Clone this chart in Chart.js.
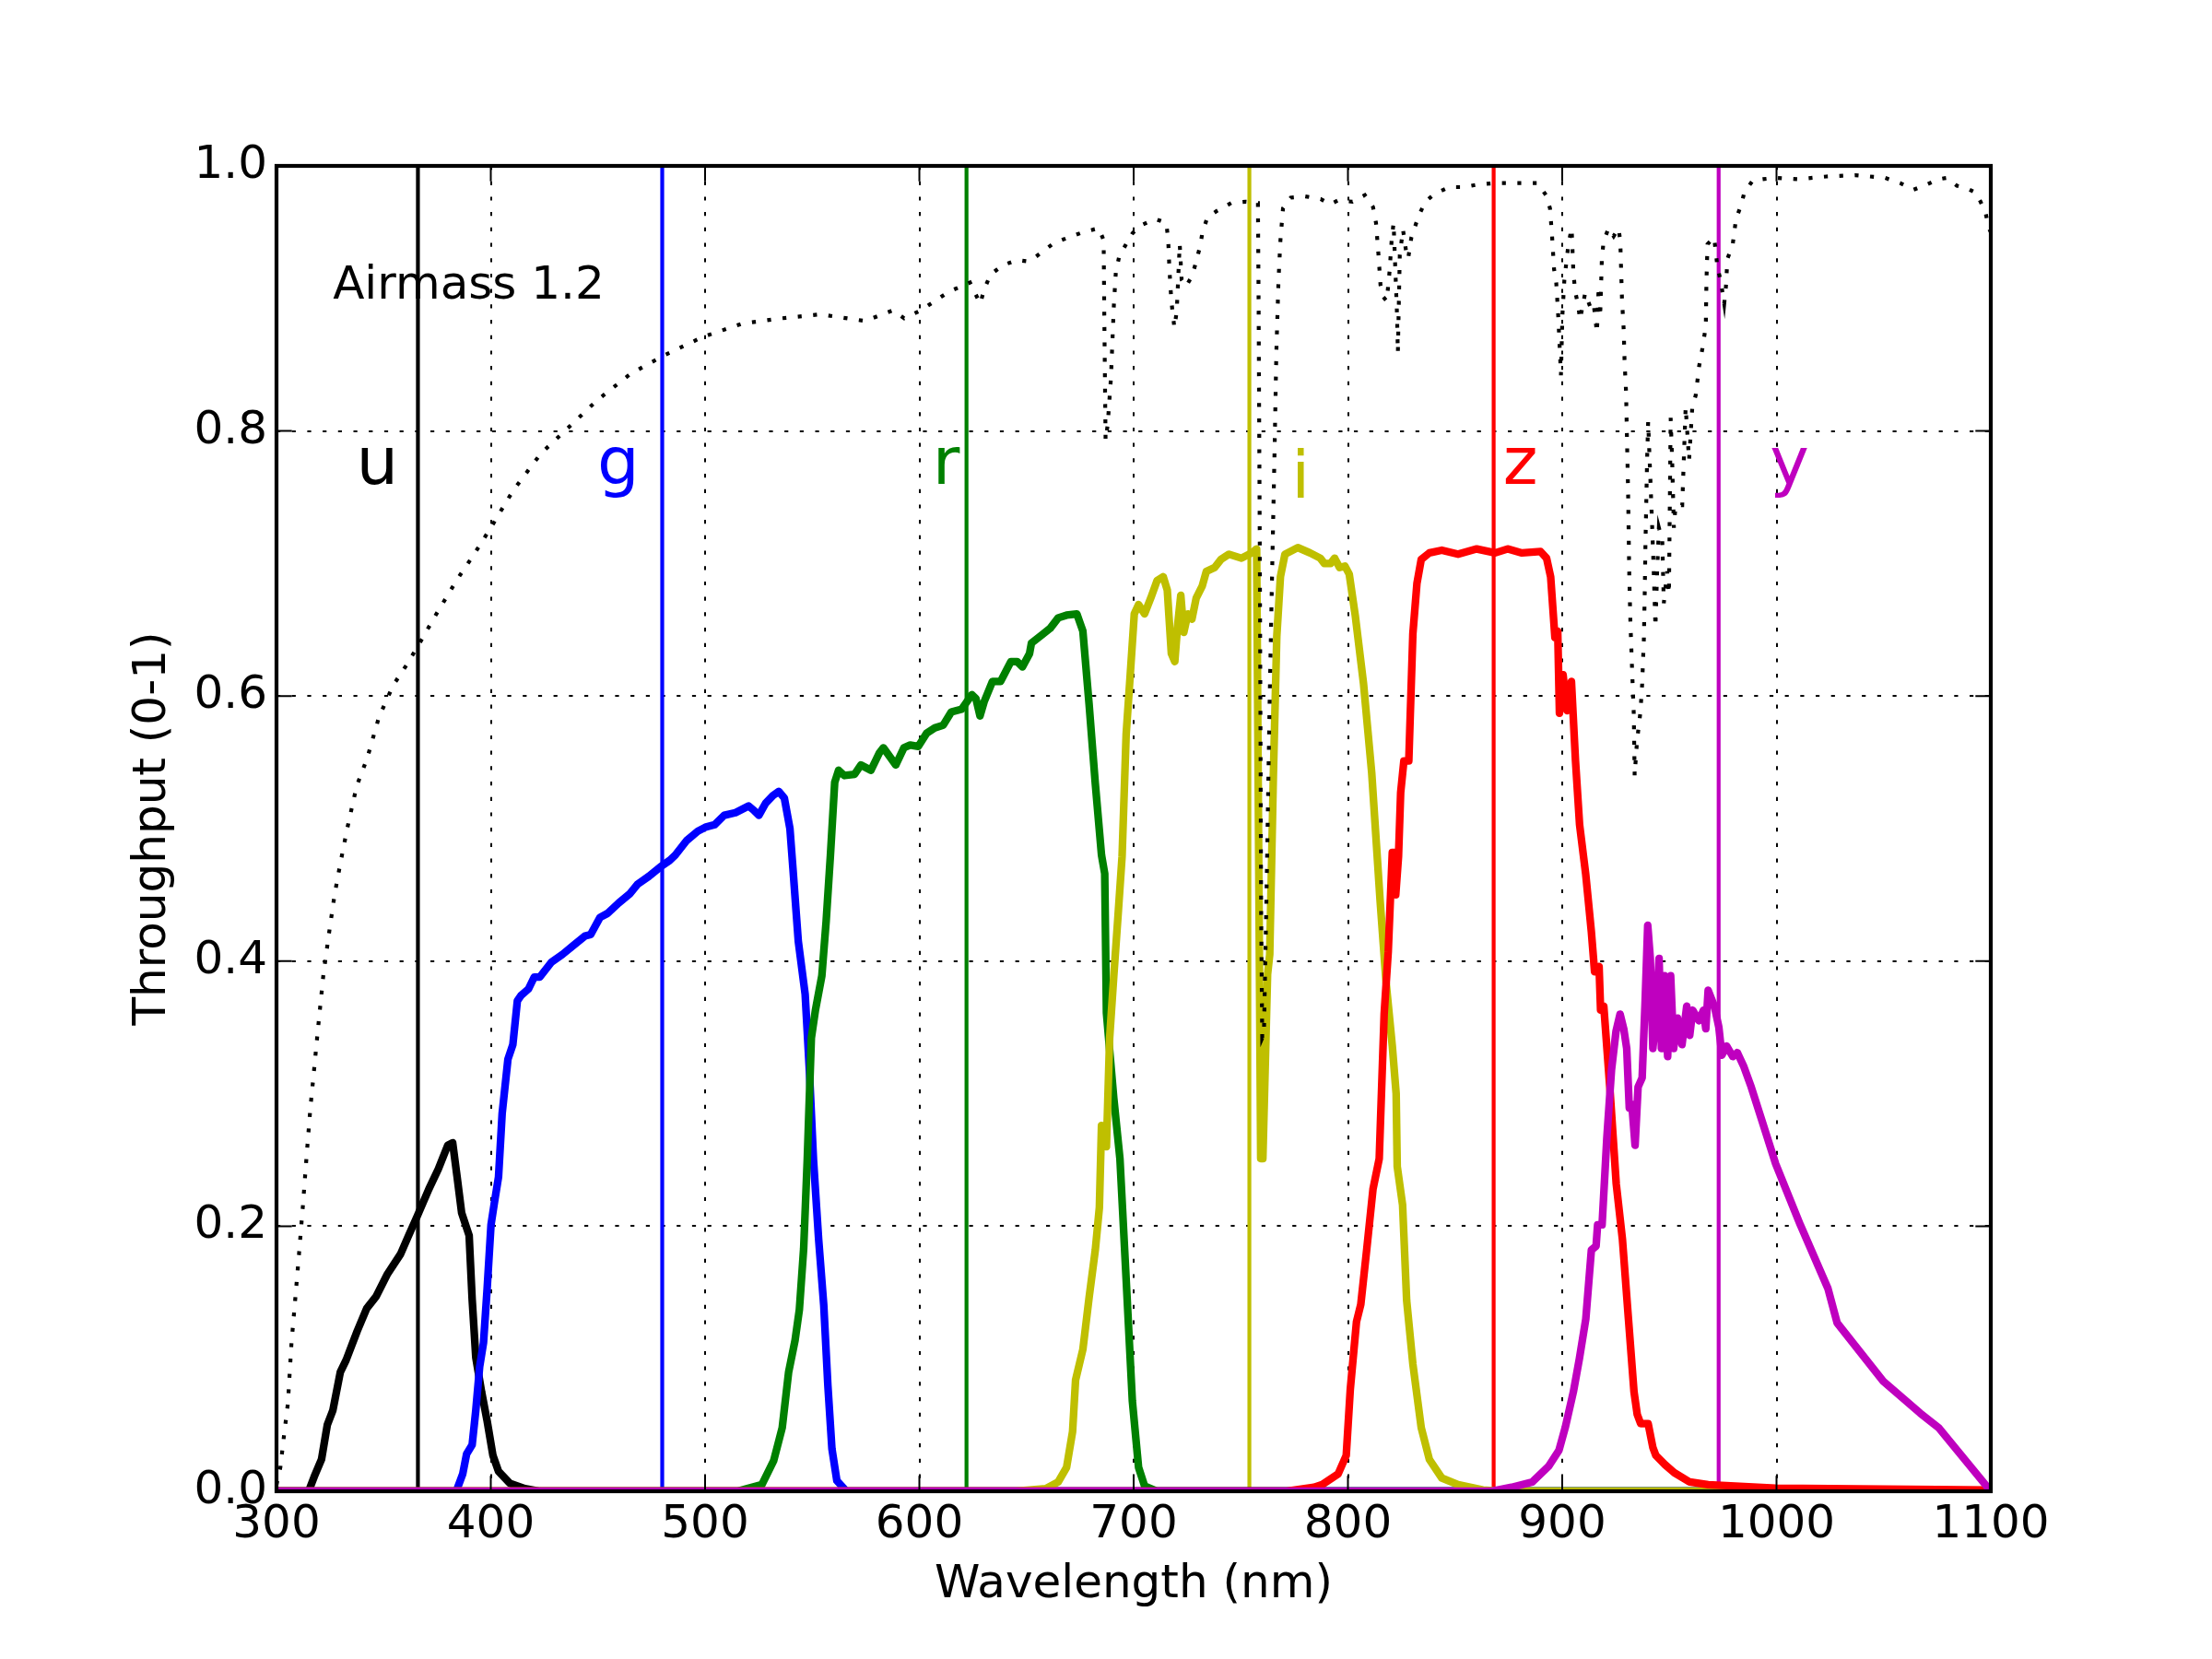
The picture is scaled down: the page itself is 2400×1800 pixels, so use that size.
<!DOCTYPE html>
<html>
<head>
<meta charset="utf-8">
<title>Filter throughput</title>
<script src="https://cdn.jsdelivr.net/npm/chart.js@4/dist/chart.umd.min.js"></script>
<style>
    body { margin: 0; background: #fff; }
    canvas { display: block; }
</style>
</head>
<body>
<canvas id="myChart" width="2400" height="1800"></canvas>
<script>
const filterNames = ['u', 'g', 'r', 'i', 'z', 'y'];
const effWave = [366, 480, 622, 754, 868, 973];
const xTicks = [300, 400, 500, 600, 700, 800, 900, 1000, 1100];
const yTicks = [0, 0.2, 0.4, 0.6, 0.8, 1.0];

const uWave = [300, 315, 317.6, 321, 323.7, 326.3, 329.8, 332.5, 335.1, 337.7, 342.1, 346.5, 351.8, 357.9, 361.4, 365.8, 371.1, 375.5, 379.9, 382.2, 384.3, 386.4, 389.9, 391.3, 393, 395.7, 398.3, 401, 403.6, 408.9, 415.9, 423, 1100];
const uThru = [0, 0, 0.011, 0.024, 0.050, 0.061, 0.090, 0.099, 0.110, 0.121, 0.138, 0.147, 0.164, 0.179, 0.192, 0.208, 0.228, 0.243, 0.261, 0.263, 0.237, 0.210, 0.193, 0.145, 0.101, 0.075, 0.053, 0.027, 0.015, 0.006, 0.002, 0, 0];

const gWave = [300, 383.9, 386.9, 388.7, 391.3, 393.0, 394.8, 396.6, 398.3, 400.1, 401.8, 403.6, 405.3, 408.0, 410.3, 412.4, 414.1, 417.6, 420.3, 422.9, 428.2, 433.4, 438.7, 444.0, 446.6, 451.0, 454.5, 459.8, 465.0, 468.5, 473.8, 479.1, 483.5, 486.1, 491.4, 496.6, 500.1, 504.5, 508.9, 514.2, 520.3, 522.6, 525.1, 528.2, 531.7, 534.4, 537.0, 539.6, 541, 543.5, 546.7, 548.6, 550.6, 553, 555.4, 557.3, 559.2, 561.5, 566, 1100];
const gThru = [0, 0, 0.013, 0.028, 0.035, 0.061, 0.094, 0.112, 0.153, 0.201, 0.219, 0.237, 0.285, 0.326, 0.337, 0.370, 0.374, 0.379, 0.388, 0.388, 0.399, 0.405, 0.412, 0.419, 0.420, 0.433, 0.436, 0.444, 0.451, 0.458, 0.464, 0.471, 0.476, 0.480, 0.491, 0.498, 0.501, 0.503, 0.510, 0.512, 0.517, 0.514, 0.510, 0.519, 0.525, 0.528, 0.523, 0.500, 0.470, 0.415, 0.375, 0.320, 0.250, 0.190, 0.140, 0.080, 0.032, 0.008, 0, 0];

const rWave = [300, 515, 526.5, 532, 536, 539, 542, 544, 546, 547.7, 549.6, 551.5, 554.5, 556.5, 558.5, 560.5, 562.3, 565, 569.8, 572.7, 577.4, 581.3, 583.2, 589, 592.8, 595.7, 599.5, 603.4, 607.2, 611.1, 614.9, 619.7, 624.5, 626.4, 628.3, 630.3, 634.1, 637.9, 642.7, 645.6, 648.1, 651.4, 652.3, 657.1, 661, 664.8, 668.7, 673.5, 676.3, 679.2, 682.1, 685, 686.5, 687.3, 690.7, 693.6, 696.5, 699.4, 702.3, 705.1, 711, 1100];
const rThru = [0, 0, 0.005, 0.023, 0.048, 0.090, 0.114, 0.137, 0.183, 0.251, 0.342, 0.363, 0.389, 0.430, 0.480, 0.535, 0.544, 0.540, 0.541, 0.548, 0.544, 0.557, 0.561, 0.548, 0.561, 0.563, 0.562, 0.572, 0.576, 0.578, 0.588, 0.590, 0.601, 0.598, 0.585, 0.596, 0.611, 0.611, 0.626, 0.626, 0.622, 0.632, 0.640, 0.646, 0.651, 0.659, 0.661, 0.662, 0.649, 0.594, 0.534, 0.480, 0.466, 0.361, 0.297, 0.251, 0.160, 0.068, 0.018, 0.004, 0, 0];

const iWave = [300, 645, 659, 664.8, 668.7, 671.5, 672.9, 676.3, 679.2, 682.1, 684, 685, 687.3, 688.8, 690.7, 692.7, 694.6, 696.5, 698.4, 700.3, 702.3, 705.1, 708, 710.9, 713.8, 715.7, 717.6, 719.2, 720.5, 722, 723.4, 725.3, 727.2, 729.2, 732, 733.9, 737.8, 740.7, 744.5, 750.3, 755.1, 757.4, 759.3, 760.3, 762.5, 763.5, 765.2, 766.8, 768.5, 770.6, 776.6, 782.3, 787.1, 789, 791.9, 793.8, 796.1, 798.6, 800.6, 803.4, 807.3, 811.1, 815, 817.8, 820.7, 822.5, 823, 825.5, 827.4, 830.3, 834.2, 838, 843.8, 851.4, 863, 871, 1100];
const iThru = [0, 0, 0.002, 0.007, 0.018, 0.045, 0.084, 0.107, 0.146, 0.182, 0.214, 0.276, 0.260, 0.342, 0.388, 0.434, 0.479, 0.571, 0.616, 0.662, 0.669, 0.662, 0.674, 0.687, 0.690, 0.680, 0.632, 0.626, 0.653, 0.676, 0.648, 0.662, 0.658, 0.674, 0.683, 0.694, 0.697, 0.703, 0.707, 0.704, 0.708, 0.711, 0.251, 0.251, 0.390, 0.405, 0.540, 0.645, 0.690, 0.707, 0.712, 0.708, 0.704, 0.700, 0.700, 0.704, 0.697, 0.698, 0.692, 0.661, 0.609, 0.542, 0.446, 0.384, 0.336, 0.300, 0.245, 0.216, 0.144, 0.096, 0.048, 0.024, 0.010, 0.005, 0.001, 0, 0];

const zWave = [300, 770.8, 784.2, 788, 795.4, 799.2, 801.1, 804, 806, 808.8, 811.7, 814.6, 816.9, 818.8, 820.7, 821.5, 822.3, 823.6, 824.6, 826.1, 828.4, 830.3, 832.2, 834.2, 838, 843.8, 851.4, 860.1, 868.7, 874.5, 881.2, 889.9, 892.7, 894.6, 896.6, 897.9, 898.7, 900.4, 902.3, 904.3, 906.2, 908.1, 911, 913.6, 915.1, 917.2, 917.9, 919.4, 922.2, 925.2, 928.1, 930.9, 933.5, 935, 936.6, 940.1, 942.3, 943.7, 948, 952.3, 959.5, 968.1, 999.6, 1100];
const zThru = [0, 0, 0.003, 0.005, 0.013, 0.027, 0.077, 0.128, 0.141, 0.183, 0.228, 0.251, 0.360, 0.407, 0.482, 0.482, 0.450, 0.479, 0.527, 0.551, 0.551, 0.647, 0.685, 0.703, 0.708, 0.710, 0.707, 0.711, 0.708, 0.711, 0.708, 0.709, 0.704, 0.690, 0.644, 0.649, 0.587, 0.616, 0.589, 0.611, 0.551, 0.503, 0.465, 0.422, 0.392, 0.396, 0.363, 0.366, 0.305, 0.232, 0.190, 0.130, 0.075, 0.058, 0.051, 0.051, 0.033, 0.027, 0.020, 0.014, 0.007, 0.005, 0.0024, 0.001];

const yWave = [300, 866.8, 876.4, 886, 893.7, 898.5, 901.4, 905.2, 908, 911, 913.6, 915.8, 916.5, 918.6, 920.8, 923, 925.1, 927, 928.7, 930.1, 931.3, 932.5, 934, 935.4, 937.3, 938.7, 939.9, 941.1, 942.3, 943.7, 945.2, 946.3, 947.7, 949.2, 950.6, 952, 953.8, 955.9, 958.1, 959.5, 960.9, 963.8, 965.9, 967, 968.1, 971, 973.1, 974.5, 976.7, 979.6, 981.7, 984.6, 988.2, 993.9, 999.6, 1011.1, 1024, 1028.3, 1049.8, 1067, 1075.6, 1100];
const yThru = [0, 0, 0.003, 0.007, 0.019, 0.031, 0.048, 0.075, 0.100, 0.130, 0.182, 0.185, 0.201, 0.201, 0.266, 0.318, 0.347, 0.360, 0.349, 0.334, 0.289, 0.292, 0.261, 0.305, 0.312, 0.370, 0.427, 0.402, 0.334, 0.357, 0.402, 0.334, 0.389, 0.328, 0.389, 0.334, 0.357, 0.337, 0.366, 0.344, 0.363, 0.355, 0.363, 0.349, 0.378, 0.366, 0.350, 0.329, 0.336, 0.328, 0.331, 0.321, 0.305, 0.276, 0.247, 0.201, 0.153, 0.127, 0.083, 0.059, 0.048, 0];

const atmWave = [300, 301.8, 303.5, 305.3, 307, 308.8, 310.5, 312.3, 314, 315.8, 317.6, 319.3, 321.9, 324.5, 327.1, 329.7, 333, 337.4, 342.3, 347.8, 354.4, 360.9, 366.1, 373.9, 384.3, 392.2, 400, 410.4, 423.4, 436.5, 449.5, 465.1, 480.8, 499, 517.3, 535.5, 553.8, 574.6, 587.7, 592.9, 600.7, 613.7, 623.6, 628.4, 630.3, 633.2, 638.9, 645.6, 650.4, 652.4, 657.2, 663, 669.6, 676.4, 683.7, 686, 686.3, 686.9, 687.9, 689.4, 690.8, 691.7, 693.3, 696.5, 699.4, 703.2, 710, 715.2, 716.1, 716.7, 717.6, 719, 720.1, 721.5, 722.4, 724.4, 727.3, 729.2, 731.1, 732.1, 734.4, 738.8, 745.5, 752.2, 758, 758.3, 758.6, 758.9, 759.2, 759.5, 760, 760.8, 762, 763.5, 764.7, 765.7, 766.6, 767.6, 768.5, 769.7, 773.3, 780.1, 787.3, 791.6, 795.4, 802.1, 807.9, 811.7, 813.1, 814.2, 815.2, 816.5, 818.1, 819.4, 820.4, 821.3, 822.3, 822.9, 823.3, 824.2, 825.7, 827.1, 828.1, 829.6, 831.9, 833.8, 836.1, 840.5, 847.3, 854, 860.7, 868.4, 875.1, 882.8, 888.5, 892.4, 894.3, 895.3, 896.2, 897.2, 898.1, 899.1, 899.4, 900.1, 901, 902.9, 904.4, 905.2, 906, 907.6, 908.3, 910.7, 913, 914.6, 916.2, 917, 917.7, 918.5, 919.3, 921.6, 924, 926.3, 927.1, 927.9, 928.7, 929.1, 929.8, 930.2, 930.7, 931, 931.3, 931.8, 932.6, 933.4, 933.8, 934.9, 936.5, 937.3, 938.1, 938.5, 938.8, 939.2, 939.6, 940.1, 941.2, 942, 942.7, 943.5, 944.3, 945.1, 946.7, 947.4, 949, 949.8, 950.6, 951.3, 952.1, 952.9, 956, 957.6, 959.2, 960.7, 962.3, 963.9, 965.4, 967, 967.3, 967.8, 970.9, 972.4, 974, 975.6, 976.4, 977.1, 979.5, 981.1, 983.4, 985, 988.9, 993.6, 999.8, 1010, 1023.3, 1036.6, 1043.6, 1050.6, 1057.7, 1063.9, 1070.2, 1075.6, 1079.5, 1084.2, 1088.9, 1092.8, 1095.2, 1097.5, 1099.1, 1100];
const atmThru = [0.005, 0.018, 0.042, 0.066, 0.112, 0.146, 0.179, 0.215, 0.252, 0.289, 0.319, 0.348, 0.390, 0.421, 0.450, 0.473, 0.500, 0.532, 0.553, 0.584, 0.608, 0.624, 0.638, 0.660, 0.688, 0.707, 0.727, 0.755, 0.783, 0.803, 0.823, 0.843, 0.857, 0.871, 0.881, 0.885, 0.888, 0.883, 0.891, 0.885, 0.891, 0.905, 0.912, 0.896, 0.907, 0.918, 0.925, 0.929, 0.928, 0.929, 0.935, 0.942, 0.946, 0.950, 0.953, 0.944, 0.888, 0.793, 0.805, 0.840, 0.896, 0.920, 0.932, 0.941, 0.949, 0.955, 0.960, 0.957, 0.945, 0.922, 0.898, 0.878, 0.890, 0.941, 0.914, 0.909, 0.917, 0.928, 0.940, 0.950, 0.961, 0.966, 0.972, 0.973, 0.972, 0.900, 0.800, 0.700, 0.571, 0.434, 0.342, 0.345, 0.450, 0.600, 0.700, 0.780, 0.860, 0.914, 0.944, 0.968, 0.976, 0.977, 0.975, 0.971, 0.974, 0.973, 0.978, 0.969, 0.957, 0.934, 0.910, 0.901, 0.898, 0.920, 0.944, 0.957, 0.914, 0.888, 0.859, 0.933, 0.952, 0.936, 0.930, 0.946, 0.957, 0.965, 0.973, 0.979, 0.984, 0.984, 0.986, 0.987, 0.987, 0.987, 0.987, 0.978, 0.968, 0.946, 0.922, 0.912, 0.888, 0.853, 0.842, 0.888, 0.914, 0.941, 0.953, 0.920, 0.906, 0.893, 0.884, 0.904, 0.894, 0.897, 0.874, 0.909, 0.886, 0.930, 0.943, 0.953, 0.947, 0.953, 0.943, 0.899, 0.876, 0.852, 0.829, 0.795, 0.758, 0.724, 0.690, 0.657, 0.620, 0.586, 0.540, 0.566, 0.588, 0.609, 0.643, 0.677, 0.711, 0.744, 0.778, 0.807, 0.761, 0.727, 0.694, 0.652, 0.694, 0.727, 0.717, 0.670, 0.694, 0.677, 0.810, 0.778, 0.727, 0.744, 0.744, 0.818, 0.778, 0.818, 0.827, 0.849, 0.862, 0.879, 0.913, 0.941, 0.946, 0.924, 0.913, 0.896, 0.909, 0.930, 0.940, 0.960, 0.970, 0.980, 0.989, 0.990, 0.991, 0.990, 0.992, 0.993, 0.992, 0.991, 0.987, 0.982, 0.986, 0.990, 0.991, 0.985, 0.983, 0.980, 0.973, 0.965, 0.953, 0.950];

const filterColors = ['#000000', '#0000ff', '#008000', '#bfbf00', '#ff0000', '#bf00bf'];
const curves = [[uWave, uThru], [gWave, gThru], [rWave, rThru], [iWave, iThru], [zWave, zThru], [yWave, yThru]];
// where the band letters sit, in data units
const labelPos = [[347, 0.76], [459.5, 0.76], [612.5, 0.76], [778, 0.75], [880.5, 0.76], [1006, 0.76]];

function points(xs, ys) {
    return xs.map((x, i) => ({ x: x, y: ys[i] }));
}

const frame = {
    id: 'frame',
    afterDatasetsDraw(chart) {
        const { ctx, chartArea: a, scales: { x, y } } = chart;
        ctx.save();

        ctx.textBaseline = 'alphabetic';
        ctx.textAlign = 'center';
        ctx.font = '72px "DejaVu Sans"';
        filterNames.forEach((name, i) => {
            ctx.fillStyle = filterColors[i];
            ctx.fillText(name, x.getPixelForValue(labelPos[i][0]), y.getPixelForValue(labelPos[i][1]));
        });
        ctx.textAlign = 'left';
        ctx.font = '50px "DejaVu Sans"';
        ctx.fillStyle = '#000';
        ctx.fillText('Airmass 1.2', x.getPixelForValue(326.3), y.getPixelForValue(0.9));

        // inward ticks on all four sides
        const len = 16.7;
        ctx.strokeStyle = '#000';
        ctx.lineWidth = 2;
        ctx.beginPath();
        xTicks.forEach(v => {
            const px = x.getPixelForValue(v);
            ctx.moveTo(px, a.bottom); ctx.lineTo(px, a.bottom - len);
            ctx.moveTo(px, a.top); ctx.lineTo(px, a.top + len);
        });
        yTicks.forEach(v => {
            const py = y.getPixelForValue(v);
            ctx.moveTo(a.left, py); ctx.lineTo(a.left + len, py);
            ctx.moveTo(a.right, py); ctx.lineTo(a.right - len, py);
        });
        ctx.stroke();

        ctx.lineWidth = 4.2;
        ctx.strokeRect(a.left, a.top, a.right - a.left, a.bottom - a.top);
        ctx.restore();
    }
};

function drawChart() {
    Chart.defaults.font.family = '"DejaVu Sans"';
    Chart.defaults.color = '#000';

    const datasets = [];
    effWave.forEach((w, i) => {
        datasets.push({
            data: [{ x: w, y: 0 }, { x: w, y: 1 }],
            borderColor: filterColors[i],
            borderWidth: 4.2,
            order: 10,
            clip: 0
        });
    });
    curves.forEach((c, i) => {
        datasets.push({
            data: points(c[0], c[1]),
            borderColor: filterColors[i],
            borderWidth: 8.3,
            borderJoinStyle: 'round',
            order: 6 - i,
            clip: 0
        });
    });
    datasets.push({
        data: points(atmWave, atmThru),
        borderColor: '#000',
        borderWidth: 4.2,
        borderDash: [4.2, 12.5],
        borderCapStyle: 'butt',
        order: 0,
        clip: 0
    });

    const ctx = document.getElementById('myChart').getContext('2d');
    new Chart(ctx, {
        type: 'line',
        data: { datasets: datasets },
        options: {
            responsive: false,
            animation: false,
            events: [],
            layout: { padding: { left: 0, top: 180, right: 240, bottom: 0 } },
            elements: { point: { radius: 0 }, line: { tension: 0, fill: false } },
            plugins: { legend: { display: false }, tooltip: { enabled: false } },
            scales: {
                x: {
                    type: 'linear',
                    min: 300,
                    max: 1100,
                    afterBuildTicks: axis => { axis.ticks = xTicks.map(v => ({ value: v })); },
                    afterFit: axis => { axis.height = 182; },
                    ticks: { font: { size: 50 }, padding: 7, maxRotation: 0, autoSkip: false, callback: v => String(v) },
                    grid: { color: '#000', lineWidth: 2, drawTicks: false },
                    border: { display: false, dash: [4.2, 12.5] },
                    title: { display: true, text: 'Wavelength (nm)', font: { size: 50 }, padding: { top: 0, bottom: 50 } }
                },
                y: {
                    type: 'linear',
                    min: 0,
                    max: 1,
                    afterBuildTicks: axis => { axis.ticks = yTicks.map(v => ({ value: v })); },
                    afterFit: axis => { axis.width = 300; },
                    ticks: { font: { size: 50 }, padding: 10, callback: v => v.toFixed(1) },
                    grid: { color: '#000', lineWidth: 2, drawTicks: false },
                    border: { display: false, dash: [4.2, 12.5] },
                    title: { display: true, text: 'Throughput (0-1)', font: { size: 50 }, padding: { top: 136, bottom: 0 } }
                }
            }
        },
        plugins: [frame]
    });
}

document.addEventListener('DOMContentLoaded', () => {
    drawChart();
});
</script>
</body>
</html>
